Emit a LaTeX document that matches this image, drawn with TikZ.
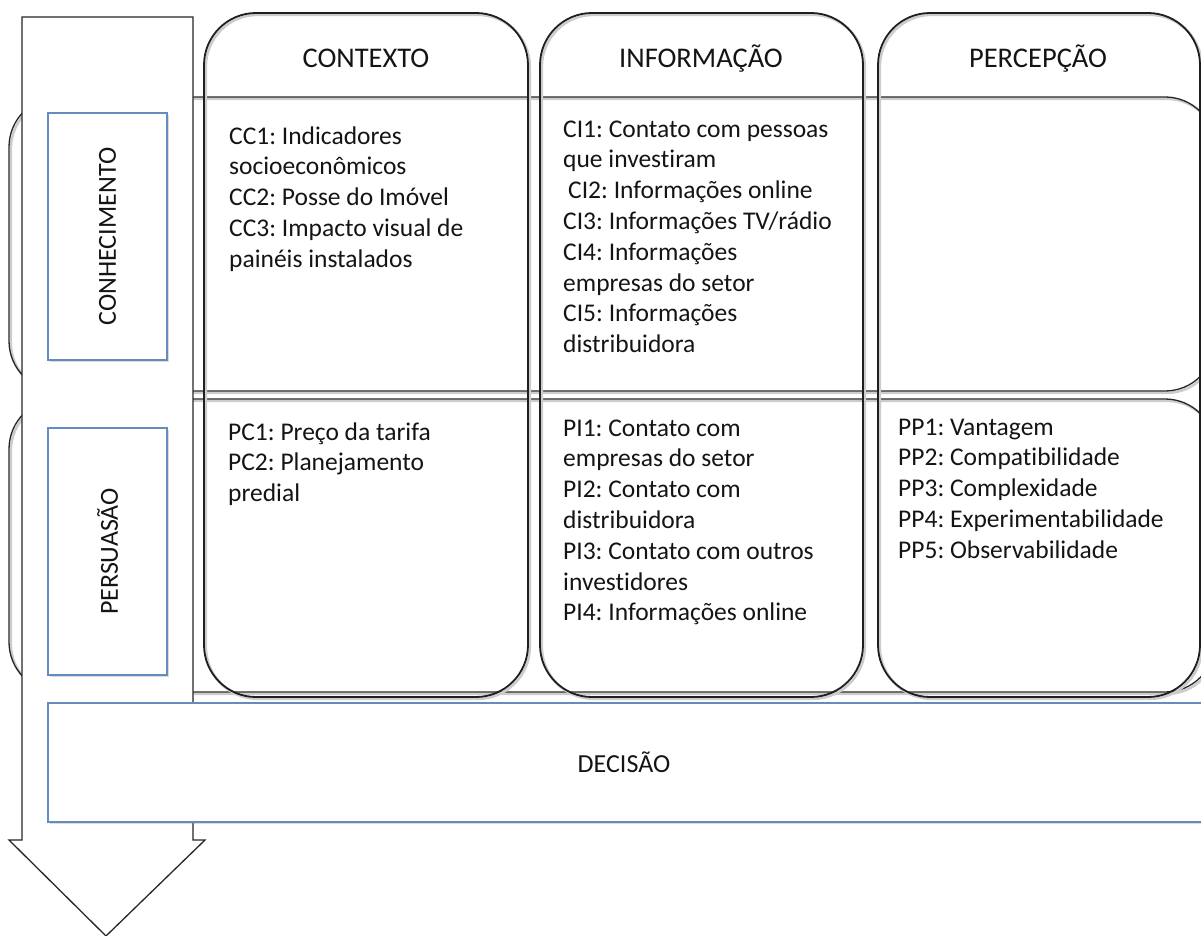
\documentclass[tikz,border=0pt]{standalone}
\usepackage{fontspec}
\setmainfont{Carlito}[Ligatures=NoCommon]
\frenchspacing
\usetikzlibrary{shadows}
\definecolor{boxblue}{RGB}{100,140,190}
\definecolor{txt}{RGB}{20,20,20}
\newcommand\txtbody{\fontsize{25.5}{30.8}\selectfont}
\newcommand\txthead{\fontsize{28.5}{34}\selectfont}
\newcommand\txtlabel{\fontsize{26}{30}\selectfont}
\tikzset{
  lineshadow/.style={preaction={draw=black!20, line width=2.6pt, transform canvas={shift={(1.8pt,-1.8pt)}}}},
  colbox/.style={draw=black!88, line width=1.8pt, rounded corners=52pt, lineshadow},
  rowbox/.style={draw=black!85, line width=1.3pt, rounded corners=50pt, lineshadow},
  arrowshape/.style={draw=black!85, line width=1.3pt, fill=white},
  bluebox/.style={draw=boxblue, line width=1.4pt, fill=white,
    drop shadow={shadow xshift=2.2pt, shadow yshift=-2.2pt, opacity=0.28}},
  bodytext/.style={font=\txtbody, text=txt, align=left, anchor=base west, inner sep=0pt},
  headtext/.style={font=\txthead, text=txt, anchor=base, inner sep=0pt},
  labeltext/.style={font=\txtlabel, text=txt, inner sep=0pt}
}
\begin{document}
\begin{tikzpicture}[x=1pt, y=-1pt]
\useasboundingbox (0,0) rectangle (1201,936);
\clip (0,0) rectangle (1201,936);

% rows
\draw[rowbox] (9,97) rectangle (1215,391);
\draw[rowbox] (9,399) rectangle (1215,692);

% columns
\draw[colbox] (204,13) rectangle (528,697);
\draw[colbox] (540,13) rectangle (863,697);
\draw[colbox] (878,13) rectangle (1200,697);

% big arrow
\draw[arrowshape] (22,17) -- (193,17) -- (193,840) -- (205,840) -- (106,936)
  -- (9,840) -- (22,840) -- cycle;

% stage boxes
\node[bluebox, minimum width=119pt, minimum height=247pt, inner sep=0pt] (conh) at (107.5,236.5) {};
\node[labeltext, rotate=90] (conhl) at (conh.center) {CONHECIMENTO};
\node[bluebox, minimum width=119pt, minimum height=247pt, inner sep=0pt] (pers) at (107.5,551.5) {};
\node[labeltext, rotate=90] (persl) at (pers.center) {PERSUASÃO};
\node[bluebox, minimum width=1180pt, minimum height=119pt, inner sep=0pt] (dec) at (638,762.5) {};
\node[labeltext] (decl) at (624,762.5) {DECISÃO};

% headers
\node[headtext] (h1) at (366,68) {CONTEXTO};
\node[headtext] (h2) at (701,68) {INFORMAÇÃO};
\node[headtext] (h3) at (1038,68) {PERCEPÇÃO};

% cell texts (anchor = baseline of last line)
\node[bodytext] (cc) at (229,267.2) {CC1: Indicadores\\socioeconômicos\\CC2: Posse do Imóvel\\CC3: Impacto visual de\\painéis instalados};
\node[bodytext] (ci) at (563,352.6) {CI1: Contato com pessoas\\que investiram\\\hspace*{5pt}CI2: Informações online\\CI3: Informações TV/rádio\\CI4: Informações\\empresas do setor\\CI5: Informações\\distribuidora};
\node[bodytext] (pc) at (228,501.6) {PC1: Preço da tarifa\\PC2: Planejamento\\predial};
\node[bodytext] (pi) at (563,620.8) {PI1: Contato com\\empresas do setor\\PI2: Contato com\\distribuidora\\PI3: Contato com outros\\investidores\\PI4: Informações online};
\node[bodytext] (pp) at (898,558.2) {PP1: Vantagem\\PP2: Compatibilidade\\PP3: Complexidade\\PP4: Experimentabilidade\\PP5: Observabilidade};
\end{tikzpicture}
\end{document}
